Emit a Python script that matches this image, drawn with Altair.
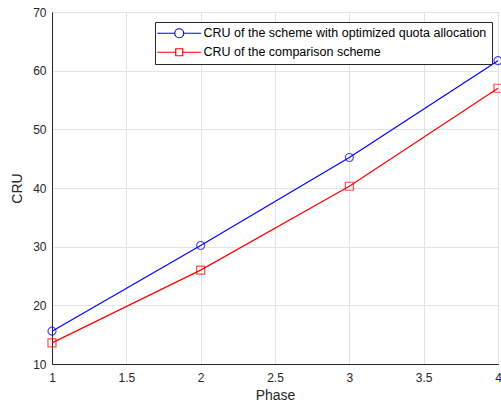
import altair as alt
import pandas as pd

phases = [1, 2, 3, 4]
optimized = [15.6, 30.2, 45.2, 61.7]
comparison = [13.6, 26.0, 40.3, 57.0]
series_names = ["CRU of the scheme with optimized quota allocation",
                "CRU of the comparison scheme"]

rows = []
for p, v in zip(phases, optimized):
    rows.append({"Phase": p, "CRU": v, "series": series_names[0]})
for p, v in zip(phases, comparison):
    rows.append({"Phase": p, "CRU": v, "series": series_names[1]})
df = pd.DataFrame(rows)

color_scale = alt.Scale(domain=series_names, range=["#0000ff", "#ff0000"])
circle_legend = ("M-4.4,0H-0.9 M0.9,0H4.4 M0.9,0A0.9,0.9,0,1,1,-0.9,0"
                 "A0.9,0.9,0,1,1,0.9,0")
square_legend = "M-4.4,0H-0.7 M0.7,0H4.4 M-0.7,-0.7H0.7V0.7H-0.7Z"
shape_scale = alt.Scale(domain=series_names, range=[circle_legend, square_legend])

font = "Liberation Sans"

base = alt.Chart(df)

x_enc = alt.X("Phase:Q", scale=alt.Scale(domain=[1, 4], nice=False, zero=False),
              axis=alt.Axis(values=[1, 1.5, 2, 2.5, 3, 3.5, 4], title="Phase",
                            format="~g", tickSize=0, labelPadding=8,
                            labelFlush=False, titlePadding=5))
y_enc = alt.Y("CRU:Q", scale=alt.Scale(domain=[10, 70], nice=False, zero=False),
              axis=alt.Axis(values=[10, 20, 30, 40, 50, 60, 70], title="CRU",
                            tickSize=0, labelPadding=6, labelFlush=False,
                            titlePadding=8))

lines = base.mark_line(strokeWidth=1.2).encode(
    x=x_enc, y=y_enc,
    color=alt.Color("series:N", scale=color_scale, legend=None),
    detail="series:N",
)

points = base.mark_point(filled=False, strokeWidth=1.2).encode(
    x="Phase:Q", y="CRU:Q",
    color=alt.Color("series:N", scale=color_scale, legend=None),
    shape=alt.Shape("series:N", scale=alt.Scale(domain=series_names,
                                                range=["circle", "square"]),
                    legend=None),
    size=alt.value(64),
)

legend_props = dict(title=None, orient="none", legendX=103, legendY=10,
                    symbolSize=100, symbolStrokeWidth=1.2, symbolOpacity=1,
                    symbolFillColor="transparent", labelFontSize=12.5,
                    labelFont=font, labelColor="#000000", labelLimit=400,
                    rowPadding=5, padding=5, strokeColor="#262626",
                    fillColor="white", symbolOffset=13, labelOffset=18)

legend_layer = base.mark_point(opacity=0, filled=False).encode(
    x="Phase:Q", y="CRU:Q",
    color=alt.Color("series:N", scale=color_scale,
                    legend=alt.Legend(**legend_props)),
    shape=alt.Shape("series:N", scale=shape_scale,
                    legend=alt.Legend(**legend_props)),
)

chart = alt.layer(lines, points, legend_layer).resolve_scale(
    shape="independent"
).resolve_legend(color="independent", shape="independent").properties(
    width=446, height=352,
    padding={"left": 52, "top": 12, "right": 3, "bottom": 42},
    autosize=alt.AutoSizeParams(type="none"),
    background="white",
).configure_view(stroke="#262626", strokeWidth=1).configure_axis(
    labelFont=font, titleFont=font, labelFontSize=12, titleFontSize=14,
    titleFontWeight="normal", labelColor="#262626", titleColor="#262626",
    gridColor="#e3e3e3", domainColor="#262626", tickColor="#262626",
)

chart.save("out.html", embed_options={"renderer": "svg", "actions": False})
